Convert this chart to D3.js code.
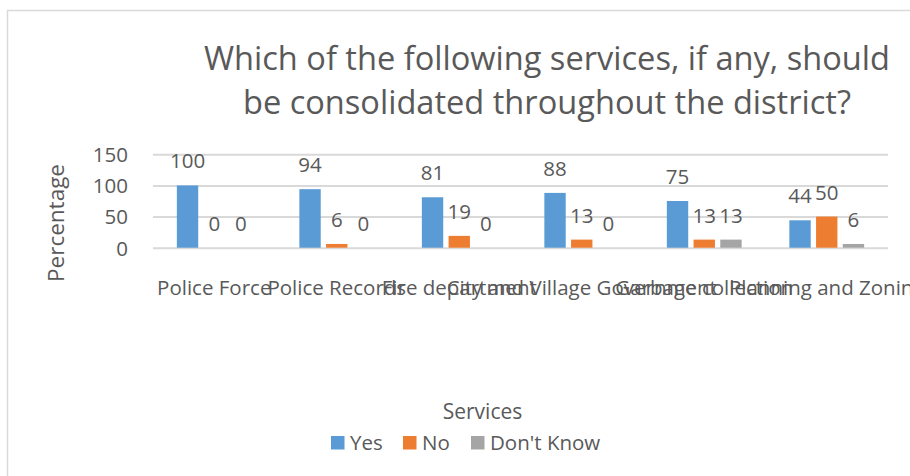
<!DOCTYPE html>
<html>
<head>
<meta charset="utf-8">
<script src="https://cdn.jsdelivr.net/npm/d3@7/dist/d3.min.js"></script>
<style>
  html, body { margin: 0; padding: 0; background: #fff; }
  svg { display: block; font-family: "Open Sans", sans-serif; }
</style>
</head>
<body>
<svg id="chart" width="910" height="476"></svg>
<script>
// Survey results: share of respondents per answer, by service
const categories = ["Police Force", "Police Records", "Fire department",
  "City and Village Government", "Garbage collection", "Planning and Zoning"];
const seriesNames = ["Yes", "No", "Don't Know"];
const yesValues = [100, 94, 81, 88, 75, 44];
const noValues = [0, 6, 19, 13, 13, 50];
const dontKnowValues = [0, 0, 0, 0, 13, 6];
const yTicks = [0, 50, 100, 150];
const titleLines = ["Which of the following services, if any, should",
  "be consolidated throughout the district?"];
const xAxisTitle = "Services";
const yAxisTitle = "Percentage";

const seriesValues = [yesValues, noValues, dontKnowValues];
const colors = ["#5b9bd5", "#ed7d31", "#a5a5a5"];
const textColor = "#595959";
const gridColor = "#d9d9d9";

const svg = d3.select("#chart");
const W = 910, H = 476;

svg.append("rect").attr("width", W).attr("height", H).attr("fill", "#fff");

// chart frame (extends past the right and bottom edges)
svg.append("rect")
  .attr("x", 7.5).attr("y", 10.5)
  .attr("width", 940).attr("height", 500)
  .attr("fill", "none").attr("stroke", gridColor).attr("stroke-width", 1.5);

const plot = { left: 153, right: 888, top: 154.3, bottom: 247.7 };

const x0 = d3.scaleBand().domain(categories)
  .range([plot.left, plot.right]).paddingInner(0).paddingOuter(0);
const groupWidth = 74.8;
const x1 = d3.scaleBand().domain(seriesNames)
  .range([0, groupWidth]).paddingInner(0.2).paddingOuter(0);
const y = d3.scaleLinear().domain([0, 150]).range([plot.bottom, plot.top]);

// horizontal gridlines
const grid = svg.append("g")
  .attr("transform", `translate(${plot.left},0)`)
  .call(d3.axisLeft(y).tickValues(yTicks).tickSize(-(plot.right - plot.left)).tickFormat(""));
grid.select(".domain").remove();
grid.selectAll(".tick line").attr("stroke", gridColor).attr("stroke-width", 2);

// y tick labels
const yAxis = svg.append("g")
  .attr("transform", "translate(128,0)")
  .call(d3.axisLeft(y).tickValues(yTicks).tickSize(0).tickPadding(0));
yAxis.select(".domain").remove();
yAxis.selectAll("text")
  .attr("fill", textColor).attr("font-size", "20.5px")
  .attr("font-family", "'Open Sans', sans-serif")
  .attr("dy", "0.36em");

// category labels (long names overlap, as drawn)
const xAxis = svg.append("g")
  .attr("transform", `translate(0,${plot.bottom})`)
  .call(d3.axisBottom(x0).tickSize(0).tickPadding(0));
xAxis.select(".domain").remove();
xAxis.selectAll("text")
  .attr("fill", textColor).attr("font-size", "20.5px")
  .attr("font-family", "'Open Sans', sans-serif")
  .attr("y", 47).attr("dy", 0);

// bars
const groups = svg.append("g").selectAll("g")
  .data(categories)
  .join("g")
  .attr("transform", d => `translate(${x0(d) + (x0.bandwidth() - groupWidth) / 2},0)`);

const cells = groups.selectAll("g")
  .data((c, ci) => seriesNames.map((s, si) => ({ s, si, v: seriesValues[si][ci] })))
  .join("g");

cells.append("rect")
  .attr("x", d => x1(d.s))
  .attr("width", x1.bandwidth())
  .attr("y", d => y(d.v))
  .attr("height", d => y(0) - y(d.v))
  .attr("fill", d => colors[d.si]);

cells.append("text")
  .attr("x", d => x1(d.s) + x1.bandwidth() / 2)
  .attr("y", d => y(d.v) - 17)
  .attr("text-anchor", "middle")
  .attr("fill", textColor).attr("font-size", "20.5px")
  .text(d => d.v);

// title
svg.append("g").selectAll("text")
  .data(titleLines)
  .join("text")
  .attr("x", 547)
  .attr("y", (d, i) => 70 + i * 44)
  .attr("text-anchor", "middle")
  .attr("fill", textColor).attr("font-size", "32.6px")
  .text(d => d);

// axis titles
svg.append("text")
  .attr("transform", "translate(64,223) rotate(-90)")
  .attr("text-anchor", "middle")
  .attr("fill", textColor).attr("font-size", "22.5px")
  .text(yAxisTitle);

svg.append("text")
  .attr("x", 482.5).attr("y", 419)
  .attr("text-anchor", "middle")
  .attr("fill", textColor).attr("font-size", "21px")
  .text(xAxisTitle);

// legend
const legendX = [331, 403, 471];
const legend = svg.append("g").selectAll("g")
  .data(seriesNames)
  .join("g")
  .attr("transform", (d, i) => `translate(${legendX[i]},436)`);
legend.append("rect")
  .attr("width", 13.5).attr("height", 13.5)
  .attr("fill", (d, i) => colors[i]);
legend.append("text")
  .attr("x", 19).attr("y", 13.5)
  .attr("fill", textColor).attr("font-size", "20.5px")
  .text(d => d);
</script>
</body>
</html>
